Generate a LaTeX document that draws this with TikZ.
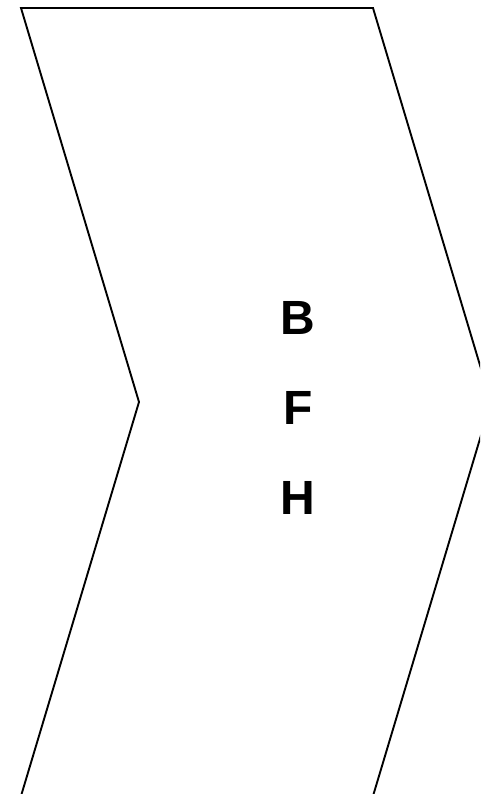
\documentclass[tikz,border=0pt]{standalone}
\usepackage{fontspec}
\setmainfont{Liberation Sans}
\usepackage{tikz}
\usetikzlibrary{positioning}
\tikzstyle{letter} = [font=\fontsize{48}{48}\selectfont\bfseries, inner sep=0pt, anchor=center]
\tikzstyle{outline} = [draw=black, line width=1.9pt, line join=miter]

\begin{document}
\begin{tikzpicture}[x=1pt, y=-1pt]
\useasboundingbox (0,0) rectangle (480,794);
\clip (0,0) rectangle (480,794);
% chevron band
\draw [outline] (21,796) -- (139,402) -- (21,8) -- (373,8) -- (491,402) -- (373,796);

\node [letter] (b) at (298,318) {B};
\node [letter] (f) at (298,408) {F};
\node [letter] (h) at (298,498) {H};
\end{tikzpicture}
\end{document}
